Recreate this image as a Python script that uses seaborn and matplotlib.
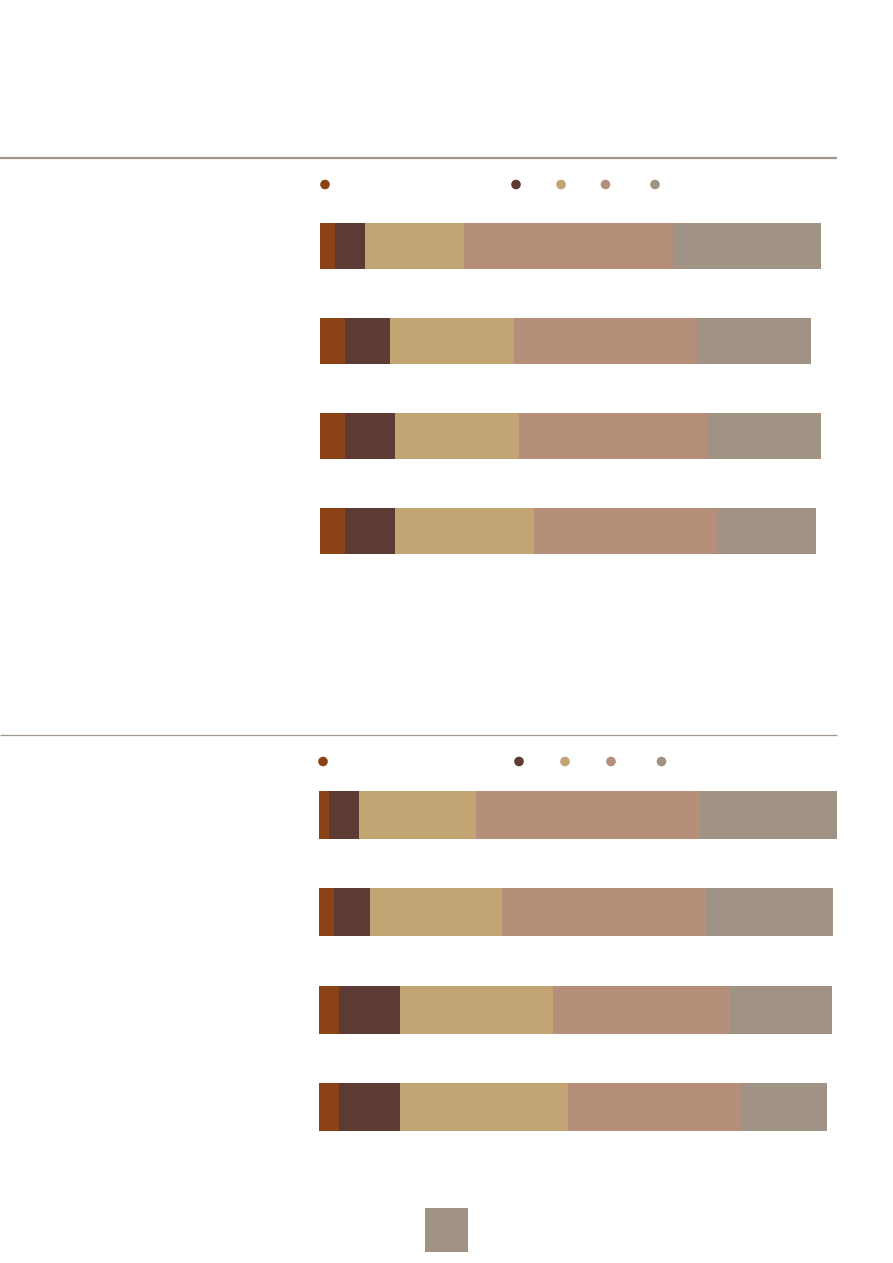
import matplotlib
matplotlib.use("Agg")
import matplotlib.pyplot as plt
import seaborn as sns
import pandas as pd
import numpy as np

sns.set_theme(style="white")
plt.rcParams['font.family'] = ['DejaVu Sans']

# ---- data ----
series = ["s1", "s2", "s3", "s4", "s5"]
colors = ["#8A4216", "#5E3A35", "#C2A572", "#B58F7A", "#A09284"]

top_categories = ["A", "B", "C", "D"]
top_s1 = [15, 25, 25, 25]
top_s2 = [30, 45, 50, 50]
top_s3 = [99, 124, 124, 139]
top_s4 = [209, 183, 188, 183]
top_s5 = [148, 114, 114, 99]

bot_categories = ["A", "B", "C", "D"]
bot_s1 = [10, 15, 20, 20]
bot_s2 = [30, 36, 61, 61]
bot_s3 = [117, 132, 153, 168]
bot_s4 = [224, 204, 177, 173]
bot_s5 = [137, 127, 102, 86]

W, H = 893, 1263
fig = plt.figure(figsize=(W / 100, H / 100), dpi=100)
fig.patch.set_facecolor("white")


def px_axes(left, top, width, height):
    return fig.add_axes([left / W, 1 - (top + height) / H, width / W, height / H])


def stacked(ax, cats, cols, xmax):
    df = pd.DataFrame({"cat": cats})
    cum = np.zeros(len(cats))
    cums = []
    for c in cols:
        cum = cum + np.array(c, dtype=float)
        cums.append(cum.copy())
    for k in range(len(cols) - 1, -1, -1):
        df["v"] = cums[k]
        sns.barplot(data=df, x="v", y="cat", order=cats, orient="h",
                    color=colors[k], saturation=1, width=0.49,
                    linewidth=0, edgecolor="none", ax=ax)
    ax.set_xlim(0, xmax)
    ax.set_ylim(len(cats) - 0.5, -0.5)
    ax.set_axis_off()


# top panel
ax1 = px_axes(320, 198.5, 517, 380)
stacked(ax1, top_categories, [top_s1, top_s2, top_s3, top_s4, top_s5], 517)

# bottom panel
ax2 = px_axes(319, 766, 518, 390)
stacked(ax2, bot_categories, [bot_s1, bot_s2, bot_s3, bot_s4, bot_s5], 518)

# overlay decorations in pixel coords
ov = fig.add_axes([0, 0, 1, 1], facecolor="none")
ov.set_xlim(0, W)
ov.set_ylim(H, 0)
ov.set_axis_off()

ov.plot([0, 837], [158, 158], color="#A0958B", lw=1.6, solid_capstyle="butt")
ov.plot([0, 837], [735, 735], color="#A0968C", lw=0.9, solid_capstyle="butt")

leg_top_x = [325, 516, 561, 605.5, 655]
leg_bot_x = [323, 519, 565, 611, 661.5]
ov.scatter(leg_top_x, [184.5] * 5, s=48, c=colors, linewidths=0)
ov.scatter(leg_bot_x, [761.5] * 5, s=48, c=colors, linewidths=0)

ov.add_patch(plt.Rectangle((425, 1208), 43, 44, color="#A09284", lw=0))

fig.savefig("out.png", dpi=100, facecolor="white")
